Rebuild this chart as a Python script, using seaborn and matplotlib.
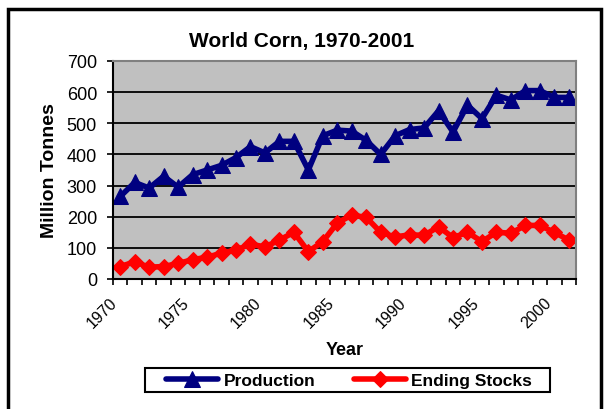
import numpy as np
import pandas as pd
import matplotlib
matplotlib.use("Agg")
import matplotlib.pyplot as plt
import matplotlib.transforms as mtransforms
import seaborn as sns
from matplotlib.patches import Rectangle

# values (million tonnes)
years = list(range(1970, 2002))
production = [265, 310, 292, 330, 295, 335, 350, 365, 390, 425,
              405, 442, 442, 350, 460, 478, 475, 445, 400, 460,
              480, 485, 540, 472, 558, 515, 590, 575, 605, 605,
              583, 583]
ending_stocks = [40, 55, 38, 40, 50, 62, 70, 83, 93, 112,
                 103, 125, 150, 88, 120, 180, 205, 198, 150, 135,
                 142, 140, 168, 133, 150, 120, 150, 147, 172, 172,
                 150, 125]

df = pd.DataFrame({"idx": np.arange(len(years)), "Year": years,
                   "Production": production, "Ending Stocks": ending_stocks})

sns.set_style("white")
plt.rcParams['font.family'] = ['Liberation Sans', 'DejaVu Sans']
plt.rcParams.update({"text.color": "black", "axes.labelcolor": "black",
                     "xtick.color": "black", "ytick.color": "black"})

fig = plt.figure(figsize=(6.04, 4.10), dpi=100)
ax = fig.add_axes([113 / 604, 1 - 280 / 410, (576 - 113) / 604, (280 - 62) / 410])
ax.set_facecolor("#C0C0C0")

sns.lineplot(data=df, x="idx", y="Production", ax=ax, color="#000080",
             linewidth=4, marker="^", markersize=11, markeredgecolor="#000080",
             label="Production")
sns.lineplot(data=df, x="idx", y="Ending Stocks", ax=ax, color="#FF0000",
             linewidth=4, marker="D", markersize=8, markeredgecolor="#FF0000",
             label="Ending Stocks")

ax.set_xlim(-0.5, len(years) - 0.5)
ax.set_ylim(0, 700)
ax.set_yticks(range(0, 701, 100))
ax.yaxis.grid(True, color="black", linewidth=1.3)
ax.set_axisbelow(True)

ax.set_xticks(range(0, len(years), 5))
ax.set_xticklabels([str(y) for y in years[::5]], rotation=45, ha="right",
                   rotation_mode="anchor")
ax.set_xticks(np.arange(-0.5, len(years), 1), minor=True)
ax.tick_params(axis="x", which="major", length=0, labelsize=11.5, pad=11)
ax.tick_params(axis="x", which="minor", length=4, width=1.2, direction="out",
               color="black", bottom=True)
ax.tick_params(axis="y", length=4.5, width=1.2, direction="out", color="black",
               left=True, labelsize=13, pad=7)
# nudge the rotated year labels to the left, as in the original
shift = mtransforms.ScaledTranslation(-11 / 100, 0, fig.dpi_scale_trans)
for tick in ax.xaxis.get_major_ticks():
    tick.label1.set_transform(tick.label1.get_transform() + shift)

for s in ["left", "bottom"]:
    ax.spines[s].set_color("black")
    ax.spines[s].set_linewidth(1.5)
for s in ["top", "right"]:
    ax.spines[s].set_color("#808080")
    ax.spines[s].set_linewidth(1.5)

ax.set_xlabel("Year", fontsize=13, fontweight="bold", labelpad=8)
ax.set_ylabel("Million Tonnes", fontsize=14, fontweight="bold", labelpad=6)
fig.text(0.5, 1 - 42 / 410, "World Corn, 1970-2001", ha="center", va="center",
         fontsize=15, fontweight="bold")

ax.legend_.remove()
handles, labels = ax.get_legend_handles_labels()
fig.legend(handles, labels, loc="center", bbox_to_anchor=(349 / 604, 1 - 381 / 410),
           ncol=2, frameon=False, prop={"weight": "bold", "size": 12.5},
           handlelength=3.0, handletextpad=0.3, columnspacing=2.2, borderpad=0.2)
# legend frame
fig.patches.append(Rectangle((145 / 604, 1 - 393 / 410), 405 / 604, 24 / 410,
                             transform=fig.transFigure, fill=False,
                             edgecolor="black", linewidth=1.5))

# outer chart border
fig.patches.append(Rectangle((8 / 604, -0.02), 593 / 604, 1.02 - 10 / 410,
                             transform=fig.transFigure, fill=False,
                             edgecolor="black", linewidth=2.5))

fig.savefig("out.png", dpi=100)
